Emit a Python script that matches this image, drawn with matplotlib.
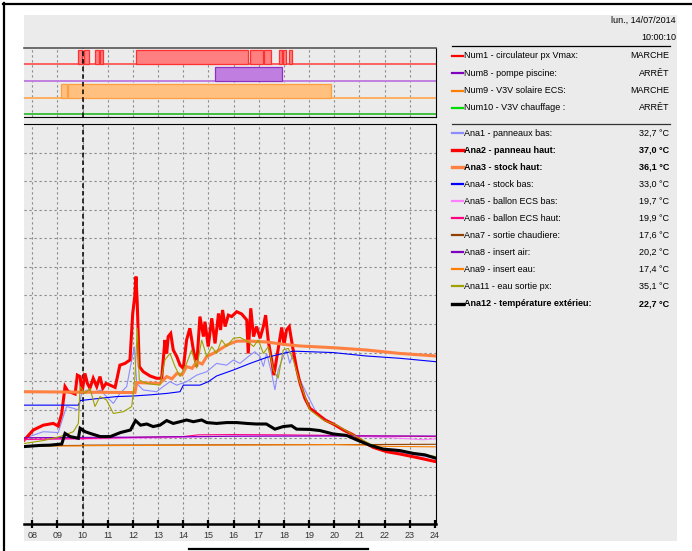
import matplotlib.pyplot as plt
from matplotlib.patches import Rectangle
from matplotlib.lines import Line2D

plt.rcParams['font.family'] = ['Liberation Sans', 'DejaVu Sans']

# ---- data ----
hours = list(range(8, 25))
hour_labels = ['%02d' % h for h in hours]
cursor_hour = 10.0

# digital channels: on-intervals (hours)
num_names = ['Num1 - circulateur px Vmax:', 'Num8 - pompe piscine:',
             'Num9 - V3V solaire ECS:', 'Num10 - V3V chauffage :']
num_states = ['MARCHE', 'ARRÊT', 'MARCHE', 'ARRÊT']
num1_on = [(9.82, 9.97), (10.05, 10.27), (10.50, 10.66), (10.70, 10.81),
           (12.13, 16.58), (16.64, 17.15), (17.22, 17.47), (17.79, 17.92),
           (17.97, 18.08), (18.19, 18.32)]
num8_on = [(15.27, 17.91)]
num9_on = [(9.15, 9.38), (9.42, 19.87)]
num10_on = []

# analog channels
t_ana1 = [7.68, 8.44, 9.03, 9.23, 9.36, 9.63, 9.83, 9.96, 10.16, 10.42, 10.69, 10.95,
          11.22, 11.48, 11.75, 11.95, 12.05, 12.15, 12.41, 12.94, 13.2, 13.47, 13.74,
          14.13, 14.53, 14.93, 15.32, 15.72, 15.99, 16.25, 16.58, 16.84, 17.05, 17.18,
          17.31, 17.51, 17.64, 17.77, 17.97, 18.1, 18.23, 18.37, 18.57, 18.9, 19.3,
          19.83, 20.49, 21.28, 22.08, 22.87, 24.04]
ana1 = [20.0, 22.3, 22.0, 27.6, 31.1, 30.5, 29.9, 35.7, 36.9, 35.7, 36.9, 34.6,
        32.2, 35.7, 38.1, 47.4, 52.1, 39.2, 36.9, 36.3, 38.1, 39.8, 38.6,
        39.8, 42.1, 43.3, 46.2, 45.6, 47.4, 46.2, 48.6, 50.3, 48.6, 45.1,
        49.7, 42.7, 36.9, 43.9, 48.6, 50.9, 46.2, 49.7, 41.6, 35.7, 28.7,
        25.8, 22.3, 18.2, 15.9, 14.7, 13.0]

t_ana2 = [7.68, 8.04, 8.44, 8.83, 9.03, 9.17, 9.30, 9.43, 9.56, 9.70, 9.79, 9.90, 9.97,
          10.09, 10.19, 10.29, 10.42, 10.56, 10.69, 10.80, 10.93, 11.09, 11.29, 11.48,
          11.68, 11.88, 11.99, 12.07, 12.12, 12.17, 12.25, 12.41, 12.68, 12.94, 13.14,
          13.27, 13.34, 13.40, 13.50, 13.60, 13.74, 13.87, 14.00, 14.13, 14.26, 14.40,
          14.53, 14.66, 14.80, 14.86, 14.99, 15.13, 15.26, 15.40, 15.48, 15.56, 15.66,
          15.79, 15.92, 16.12, 16.32, 16.52, 16.58, 16.68, 16.79, 16.91, 17.05, 17.18,
          17.27, 17.38, 17.51, 17.60, 17.74, 17.91, 18.00, 18.10, 18.21, 18.34, 18.50,
          18.64, 18.83, 19.03, 19.30, 19.63, 19.96, 20.36, 20.75, 21.15, 21.55, 22.08,
          22.60, 23.27, 24.04]
ana2 = [19.4, 22.9, 24.6, 25.2, 24.3, 28.7, 38.1, 36.3, 36.0, 35.5, 42.1, 41.6, 35.7,
        42.7, 39.2, 37.5, 41.0, 38.1, 41.6, 37.5, 39.2, 38.6, 37.8, 45.6,
        46.2, 47.4, 63.7, 69.6, 76.6, 67.2, 45.1, 43.3, 41.8, 41.0, 41.0,
        54.4, 49.7, 55.6, 56.7, 50.9, 48.6, 45.6, 44.5, 54.4, 58.5, 50.9,
        45.1, 62.6, 55.6, 60.8, 52.1, 62.0, 53.2, 63.7, 57.9, 64.9, 59.1,
        63.1, 62.6, 64.3, 63.5, 61.4, 49.7, 65.5, 55.6, 59.1, 55.0, 59.1,
        63.1, 53.8, 47.4, 42.1, 49.7, 58.8, 52.6, 57.9, 59.1, 52.1, 44.5,
        39.2, 34.0, 30.5, 28.7, 26.4, 25.0, 22.9, 21.2, 18.8, 16.8, 15.3,
        14.5, 13.3, 11.8]

t_ana3 = [7.68, 12.08, 12.15, 13.07, 13.34, 13.55, 13.74, 13.95, 14.13, 14.35, 14.53,
          14.75, 14.93, 15.32, 15.72, 16.12, 16.65, 17.31, 17.97, 18.64, 19.96,
          21.28, 22.60, 24.04]
ana3 = [36.3, 36.0, 39.5, 39.2, 41.6, 40.8, 42.7, 42.2, 45.1, 44.5, 46.8,
        46.0, 48.6, 50.3, 52.6, 54.0, 54.0, 53.7, 52.9, 52.3, 51.7,
        50.9, 49.7, 48.8]

t_ana4 = [7.68, 9.83, 9.90, 10.7, 11.35, 12.0, 12.68, 13.34, 13.87, 14.0, 14.66, 14.99,
          15.32, 15.99, 16.65, 17.31, 17.97, 18.37, 19.96, 21.28, 22.6, 24.04]
ana4 = [31.6, 31.6, 33.2, 34.0, 34.6, 34.8, 35.2, 35.7, 36.3, 38.6, 38.6, 39.8,
        41.8, 43.9, 46.2, 48.3, 49.7, 50.5, 50.0, 48.8, 48.0, 46.8]

t_ana5 = [7.68, 10.0, 12.0, 14.0, 16.0, 18.0, 20.0, 21.0, 22.0, 23.0, 23.5, 24.04]
ana5 = [19.5, 19.7, 20.0, 20.3, 20.8, 20.9, 20.8, 20.6, 20.3, 19.8, 19.5, 19.8]

t_ana6 = [7.68, 9.0, 10.0, 12.0, 14.0, 14.6, 16.0, 18.0, 20.0, 22.0, 24.04]
ana6 = [19.6, 19.8, 19.9, 20.3, 20.6, 21.2, 21.3, 21.2, 21.0, 20.8, 20.6]

t_ana7 = [7.68, 9.9, 10.0, 20.0, 21.0, 24.04]
ana7 = [17.4, 17.5, 17.6, 17.8, 17.8, 17.9]

t_ana8 = [7.68, 12.0, 16.0, 20.0, 24.04]
ana8 = [20.2, 20.4, 20.7, 20.8, 20.8]

t_ana9 = [7.68, 9.9, 10.0, 20.0, 21.3, 22.0, 24.04]
ana9 = [17.3, 17.3, 17.4, 17.8, 17.6, 17.2, 17.0]

t_ana11 = [7.68, 8.44, 9.10, 9.63, 9.83, 9.90, 10.09, 10.29, 10.49, 10.69, 10.95, 11.22,
           11.62, 11.95, 12.08, 12.17, 12.25, 12.54, 13.07, 13.27, 13.47, 13.67, 13.87,
           14.13, 14.33, 14.53, 14.73, 14.93, 15.13, 15.32, 15.52, 15.72, 15.99, 16.25,
           16.58, 16.79, 16.98, 17.18, 17.38, 17.58, 17.77, 17.97, 18.17, 18.37, 18.64,
           19.03, 19.56, 20.09, 20.75, 21.42, 22.08, 22.87, 24.04]
ana11 = [18.2, 19.2, 20.6, 22.3, 25.2, 38.1, 35.7, 37.5, 31.1, 34.6, 33.4, 28.7,
         29.3, 31.1, 41.6, 58.5, 40.4, 39.2, 38.6, 47.4, 49.7, 45.1, 41.6,
         46.2, 50.9, 44.5, 54.4, 48.6, 52.1, 49.7, 54.4, 52.1, 55.0, 55.3,
         53.8, 52.1, 54.4, 49.7, 52.1, 43.9, 41.0, 50.9, 51.5, 47.4, 39.2,
         29.9, 26.4, 24.6, 21.2, 18.0, 15.9, 15.3, 13.6]

t_ana12 = [7.68, 8.30, 8.70, 9.17, 9.30, 9.50, 9.83, 9.90, 10.10, 10.30, 10.70, 11.10,
           11.50, 11.90, 12.10, 12.30, 12.55, 12.80, 13.07, 13.34, 13.60, 13.87, 14.13,
           14.40, 14.73, 14.93, 15.32, 15.72, 16.12, 16.52, 16.90, 17.30, 17.64, 17.97,
           18.30, 18.50, 19.03, 19.43, 19.96, 20.49, 20.90, 21.40, 21.95, 22.60, 23.14,
           23.60, 24.04]
ana12 = [17.1, 17.5, 17.6, 18.0, 21.7, 20.6, 20.0, 23.5, 22.3, 21.7, 20.6, 20.6,
         22.0, 22.9, 26.2, 24.6, 25.0, 24.1, 24.6, 26.2, 25.2, 25.8, 26.4,
         25.8, 26.4, 25.5, 25.2, 25.5, 25.5, 25.2, 25.0, 25.0, 23.2, 24.1,
         24.4, 23.2, 23.1, 22.7, 21.5, 21.0, 19.4, 17.6, 16.2, 15.7, 14.7,
         14.2, 13.0]

ana_names = ['Ana1 - panneaux bas:', 'Ana2 - panneau haut:', 'Ana3 - stock haut:',
             'Ana4 - stock bas:', 'Ana5 - ballon ECS bas:', 'Ana6 - ballon ECS haut:',
             'Ana7 - sortie chaudiere:', 'Ana8 - insert air:', 'Ana9 - insert eau:',
             'Ana11 - eau sortie px:', 'Ana12 - température extérieu:']
ana_values = ['32,7 °C', '37,0 °C', '36,1 °C', '33,0 °C', '19,7 °C', '19,9 °C',
              '17,6 °C', '20,2 °C', '17,4 °C', '35,1 °C', '22,7 °C']
ana_bold = [False, True, True, False, False, False, False, False, False, False, True]

# ---- styles ----
num_line = ['#ff0000', '#8000c0', '#ff8000', '#00dd00']
num_base = ['#ff6060', '#c080e0', '#ffb060', '#40c040']
num_fill = ['#ff8080', '#c07ee0', '#ffc080', '#80e080']
num_edge = ['#ff3030', '#9030c0', '#ffa040', '#00c000']
ana_colors = ['#8c8cff', '#ff0000', '#ff8040', '#0000ff', '#ff80ff', '#ff0080',
              '#904000', '#8000c0', '#ff8000', '#a0a000', '#000000']
ana_series = [(t_ana1, ana1), (t_ana2, ana2), (t_ana3, ana3), (t_ana4, ana4),
              (t_ana5, ana5), (t_ana6, ana6), (t_ana7, ana7), (t_ana8, ana8),
              (t_ana9, ana9), (t_ana11, ana11), (t_ana12, ana12)]

W, H = 692, 551
BG = '#ebebeb'
GRID = '#8a8a8a'


def fx(px):
    return px / W


def fy(py):
    return 1 - py / H


fig = plt.figure(figsize=(W / 100, H / 100), dpi=100)
fig.patch.set_facecolor('white')

# gray panel and frame (behind the axes)
fig.patches.append(Rectangle((fx(24), fy(541)), fx(677) - fx(24), fy(15) - fy(541),
                             transform=fig.transFigure, facecolor=BG, edgecolor='none',
                             zorder=-10))
fig.add_artist(Line2D([fx(3.5), fx(3.5)], [fy(3), fy(551)], color='black', lw=1.6))
fig.add_artist(Line2D([fx(3), 1], [fy(3.5), fy(3.5)], color='black', lw=1.6))
fig.add_artist(Line2D([fx(189), fx(368)], [fy(549), fy(549)], color='black', lw=1.6))

xmin, xmax = 7.67, 24.04

# ---- digital panel ----
axd = fig.add_axes([fx(24), fy(117), fx(436) - fx(24), fy(48) - fy(117)], zorder=2)
axd.set_facecolor(BG)
axd.set_xlim(xmin, xmax)
axd.set_ylim(4.1, 0)
for h in hours[:-1]:
    axd.axvline(h, color=GRID, lw=0.8, ls=(0, (2, 2.5)), zorder=1)
for i, segs in enumerate([num1_on, num8_on, num9_on, num10_on]):
    base, top = i + 0.95, i + 0.12
    axd.axhline(base, color=num_base[i], lw=1.4, zorder=2)
    for s, e in segs:
        axd.add_patch(Rectangle((s, top), e - s, base - top, facecolor=num_fill[i],
                                edgecolor=num_edge[i], lw=0.9, zorder=3))
axd.axvline(cursor_hour, color='black', lw=1.1, ls=(0, (3, 2)), zorder=5)
axd.set_xticks([])
axd.set_yticks([])
axd.spines['left'].set_visible(False)
axd.spines['top'].set_color('#555555')
axd.spines['top'].set_linewidth(1.2)
axd.spines['right'].set_color('black')
axd.spines['right'].set_linewidth(0.8)
axd.spines['bottom'].set_color('black')
axd.spines['bottom'].set_linewidth(0.8)

# ---- analog chart ----
ax = fig.add_axes([fx(24), fy(524), fx(436) - fx(24), fy(124) - fy(524)], zorder=2)
ax.set_facecolor(BG)
ax.set_xlim(xmin, xmax)
ax.set_ylim(-10, 130)
for h in hours[:-1]:
    ax.axvline(h, color=GRID, lw=0.8, ls=(0, (2, 2.5)), zorder=1)
for v in range(0, 130, 10):
    ax.axhline(v, color=GRID, lw=0.8, ls=(0, (2, 2.5)), zorder=1)
ax.axvline(cursor_hour, color='black', lw=1.1, ls=(0, (3, 2)), zorder=2)

for (t, v), c, b in zip(ana_series, ana_colors, ana_bold):
    ax.plot(t, v, color=c, lw=2.2 if b else 0.8, zorder=3, solid_joinstyle='miter')

ax.set_yticks([])
ax.set_xticks(hours)
ax.set_xticklabels(hour_labels, fontsize=6.5, color='#333333')
ax.tick_params(axis='x', direction='inout', length=6, width=1.6, color='black', pad=2)
ax.spines['left'].set_visible(False)
ax.spines['top'].set_linewidth(0.8)
ax.spines['right'].set_linewidth(0.8)
ax.spines['bottom'].set_linewidth(1.8)

# ---- legend panel ----
fig.text(fx(676), fy(20), 'lun., 14/07/2014', ha='right', va='center', fontsize=6.5)
fig.text(fx(676), fy(37), '10:00:10', ha='right', va='center', fontsize=6.5)
fig.add_artist(Line2D([fx(452), fx(670)], [fy(46), fy(46)], color='black', lw=0.9))
fig.add_artist(Line2D([fx(452), fx(670)], [fy(124), fy(124)], color='#333333', lw=0.9))

for i, (name, state) in enumerate(zip(num_names, num_states)):
    y = 56 + i * 17.3
    fig.add_artist(Line2D([fx(452), fx(463)], [fy(y), fy(y)], color=num_line[i], lw=1.6))
    fig.text(fx(464.5), fy(y), name, ha='left', va='center', fontsize=6.5)
    fig.text(fx(669), fy(y), state, ha='right', va='center', fontsize=6.5)

for i, (name, val) in enumerate(zip(ana_names, ana_values)):
    y = 133 + i * 17.05
    wt = 'bold' if ana_bold[i] else 'normal'
    fig.add_artist(Line2D([fx(452), fx(463)], [fy(y), fy(y)], color=ana_colors[i],
                          lw=2.4 if ana_bold[i] else 1.6))
    fig.text(fx(464.5), fy(y), name, ha='left', va='center', fontsize=6.5, fontweight=wt)
    fig.text(fx(669), fy(y), val, ha='right', va='center', fontsize=6.5, fontweight=wt)

fig.savefig('out.png', dpi=100)
